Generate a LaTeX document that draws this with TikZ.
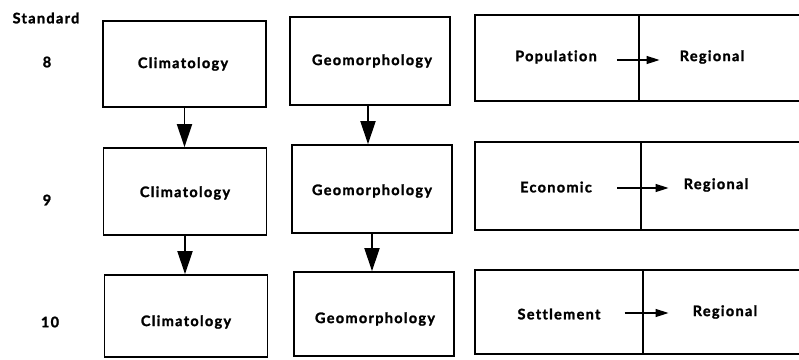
\documentclass[tikz,border=0pt]{standalone}
\usepackage{fontspec}
\setmainfont{Lato}[LetterSpace=9, Ligatures=NoCommon, BoldFeatures={FakeBold=1.6}]
\usetikzlibrary{arrows.meta, positioning}

\begin{document}
\begin{tikzpicture}[x=1pt, y=-1pt,
  topic/.style={draw, line width=1.7pt, inner sep=0pt},
  lbl/.style={font=\fontsize{14.5}{16}\selectfont\bfseries, inner sep=0pt},
  stdlbl/.style={font=\fontsize{14.5}{16}\selectfont\bfseries, inner sep=0pt},
  down/.style={-{Triangle[length=23pt, width=15pt]}, line width=1.9pt},
  across/.style={-{Triangle[length=13pt, width=8pt]}, line width=1.3pt}]
\useasboundingbox (0,0) rectangle (799,359);
\clip (0,0) rectangle (799,359);
% Standard column
\node[stdlbl] (std) at (46,18) {Standard};
\node[stdlbl] (std8) at (47,62) {8};
\node[stdlbl] (std9) at (47,200) {9};
\node[stdlbl] (std10) at (50,322) {10};
% Climatology boxes
\node[topic, minimum width=163pt, minimum height=86pt] (clim8) at (184.5,64) {};
\node[topic, minimum width=163pt, minimum height=87pt] (clim9) at (185,191.5) {};
\node[topic, minimum width=163pt, minimum height=82pt] (clim10) at (186,316) {};
\node[lbl] at (183,64) {Climatology};
\node[lbl] at (185,193) {Climatology};
\node[lbl] at (186,322) {Climatology};
% Geomorphology boxes
\node[topic, minimum width=160pt, minimum height=88pt] (geo8) at (370,61) {};
\node[topic, minimum width=160pt, minimum height=88pt] (geo9) at (372,189) {};
\node[topic, minimum width=160pt, minimum height=84pt] (geo10) at (374,314) {};
\node[lbl] at (372,61) {Geomorphology};
\node[lbl] at (372,191) {Geomorphology};
\node[lbl] at (375,319) {Geomorphology};
% Vertical arrows
\draw[down] (clim8.south) -- (clim8.south |- clim9.north);
\draw[down] (clim9.south) -- (clim9.south |- clim10.north);
\draw[down] ([xshift=-2pt]geo8.south) -- ([xshift=-2pt]geo8.south |- geo9.north);
\draw[down] (geo9.south) -- (geo9.south |- geo10.north);
% Split boxes, right halves run off the page
\node[topic, minimum width=164pt, minimum height=86pt] (pop) at (557,58) {};
\node[topic, minimum width=200pt, minimum height=86pt] (popr) at (739,58) {};
\node[topic, minimum width=166pt, minimum height=88pt] (eco) at (558,186) {};
\node[topic, minimum width=200pt, minimum height=88pt] (ecor) at (741,186) {};
\node[topic, minimum width=168pt, minimum height=84pt] (set) at (559,312) {};
\node[topic, minimum width=200pt, minimum height=84pt] (setr) at (743,312) {};
% Split box texts
\node[lbl] (poptxt) at (556,57) {Population};
\node[lbl] (popreg) at (712,57) {Regional};
\node[lbl] (ecotxt) at (556,187) {Economic};
\node[lbl] (ecoreg) at (716,185) {Regional};
\node[lbl] (settxt) at (559,314) {Settlement};
\node[lbl] (setreg) at (725,312) {Regional};
% Horizontal arrows
\draw[across, shorten <=20pt, shorten >=20pt] ([yshift=-3pt]poptxt.east) -- ([yshift=-3pt]poptxt.east -| popreg.west);
\draw[across, shorten <=25pt, shorten >=15pt] ([yshift=-1pt]ecotxt.east) -- ([yshift=-1pt]ecotxt.east -| ecoreg.west);
\draw[across, shorten <=24pt, shorten >=24pt] ([yshift=1pt]settxt.east) -- ([yshift=1pt]settxt.east -| setreg.west);
\end{tikzpicture}
\end{document}
